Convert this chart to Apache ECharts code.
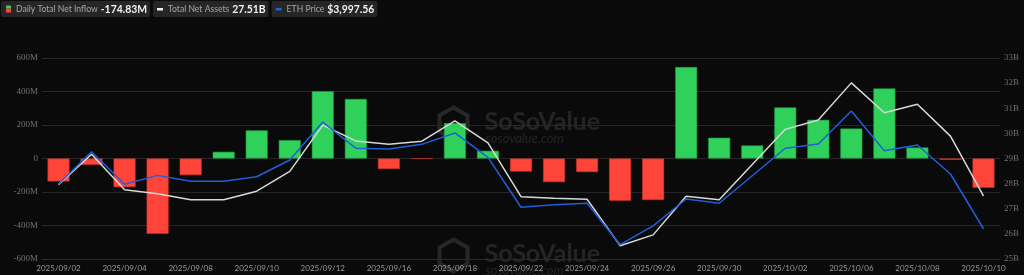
<!DOCTYPE html>
<html>
<head>
<meta charset="utf-8">
<script src="https://cdn.jsdelivr.net/npm/echarts@6/dist/echarts.min.js"></script>
<style>
html,body{margin:0;padding:0;background:#0a0a0a;}
#c{width:1024px;height:275px;}
</style>
</head>
<body>
<div id="c"></div>
<script>
const dates = ['2025/09/02','2025/09/03','2025/09/04','2025/09/05','2025/09/08','2025/09/09','2025/09/10','2025/09/11','2025/09/12','2025/09/15','2025/09/16','2025/09/17','2025/09/18','2025/09/19','2025/09/22','2025/09/23','2025/09/24','2025/09/25','2025/09/26','2025/09/29','2025/09/30','2025/10/01','2025/10/02','2025/10/03','2025/10/06','2025/10/07','2025/10/08','2025/10/09','2025/10/10'];
// Daily total net inflow, millions USD
const netInflow = [-137,-38,-171,-450,-99,40,168,110,402,356,-63,-1.5,211,46,-78,-141,-81,-252,-248,546,124,78,305,231,179,418,66,-8,-174.83];
// Total net assets, billions USD
const totalNetAssets = [27.96,29.17,27.76,27.60,27.36,27.36,27.70,28.49,30.33,29.70,29.57,29.69,30.50,29.62,27.48,27.42,27.38,25.53,25.96,27.50,27.36,28.76,30.16,30.53,32.01,30.82,31.16,29.89,27.51];
// ETH price, USD
const ethPrice = [4259,4450,4259,4311,4276,4276,4303,4401,4624,4470,4466,4493,4560,4417,4124,4139,4147,3904,4014,4172,4147,4309,4470,4495,4689,4456,4489,4319,3997.56];
const leftTicks = {min:-600, max:600, interval:200};
const rightTicks = {min:25, max:33, interval:1};

const GREEN = '#2fd15a', RED = '#ff4539', WHITE = '#d8d8d8', BLUE = '#1f5fdc';

const lastInflow = netInflow[netInflow.length-1];
const lastAssets = totalNetAssets[totalNetAssets.length-1];
const lastEth = ethPrice[ethPrice.length-1];
const fmtEth = '$' + lastEth.toLocaleString('en-US',{minimumFractionDigits:2, maximumFractionDigits:2});

const LABEL_FONT = {family:'Lato', size:8.6, weight:'normal'};
const VALUE_FONT = {family:'Lato', size:10.4, weight:'bold'};
const mctx = document.createElement('canvas').getContext('2d');
function measure(t, f){ mctx.font = f.weight+' '+f.size+'px '+f.family; return mctx.measureText(t).width; }

const chart = echarts.init(document.getElementById('c'), null, {renderer:'canvas'});

function legendBox(x, iconEls, label, value){
  const lw = measure(label, LABEL_FONT), vw = measure(value, VALUE_FONT);
  const w = 15 + lw + 3 + vw + 3;
  return {w, el:{
    type:'group', left:x, top:1,
    children:[
      {type:'rect', shape:{x:0,y:0,width:w,height:16,r:2}, style:{fill:'#262626'}},
      ...iconEls,
      {type:'text', x:15, y:8.5, style:{text:label, verticalAlign:'middle', fontFamily:LABEL_FONT.family, fontSize:LABEL_FONT.size, fill:'#a6a6a6'}},
      {type:'text', x:15+lw+3, y:8.5, style:{text:value, verticalAlign:'middle', fontFamily:VALUE_FONT.family, fontSize:VALUE_FONT.size, fontWeight:'bold', fill:'#f2f2f2'}}
    ]
  }};
}

function watermark(top){
  return {
    type:'group', left:437, top:top, silent:true,
    children:[
      {type:'polygon', shape:{points:[[15,0],[29,8],[29,24],[15,32],[1,24],[1,8]]}, style:{fill:'none', stroke:'rgba(255,255,255,0.12)', lineWidth:4}},
      {type:'text', x:46, y:2, style:{text:'SoSoValue', fontFamily:'Lato', fontWeight:'bold', fontSize:25, fill:'rgba(255,255,255,0.11)'}},
      {type:'text', x:47, y:25, style:{text:'sosovalue.com', fontFamily:'Lato', fontStyle:'italic', fontSize:13, fill:'rgba(255,255,255,0.10)'}}
    ]
  };
}

const b1 = legendBox(1, [
  {type:'rect', shape:{x:5,y:4.5,width:5,height:3}, style:{fill:GREEN}},
  {type:'rect', shape:{x:5,y:7.5,width:5,height:4}, style:{fill:RED}}
], 'Daily Total Net Inflow', lastInflow.toFixed(2)+'M');
const b2 = legendBox(1 + b1.w + 3, [
  {type:'rect', shape:{x:4,y:7,width:6,height:2.5}, style:{fill:'#f0f0f0'}}
], 'Total Net Assets', lastAssets.toFixed(2)+'B');
const b3 = legendBox(1 + b1.w + 3 + b2.w + 3, [
  {type:'rect', shape:{x:4,y:7,width:6,height:2.5}, style:{fill:BLUE}}
], 'ETH Price', fmtEth);

const option = {
  backgroundColor:'#0a0a0a',
  animation:false,
  graphic:[ watermark(105), watermark(237), b1.el, b2.el, b3.el ],
  grid:{left:42, right:24, top:58, bottom:16, containLabel:false},
  xAxis:{
    type:'category', data:dates,
    axisLine:{onZero:false, lineStyle:{color:'#2a2a2a'}},
    axisTick:{show:false},
    axisLabel:{interval:1, color:'#9a9a9a', fontFamily:'Lato', fontSize:8, margin:5}
  },
  yAxis:[
    {
      type:'value', min:leftTicks.min, max:leftTicks.max, interval:leftTicks.interval,
      axisLine:{show:false}, axisTick:{show:false},
      splitLine:{lineStyle:{color:'#262626', width:1}},
      axisLabel:{color:'#707070', fontFamily:'Liberation Serif', fontSize:9, margin:4,
        formatter:v => v===0 ? '0' : v+'M'}
    },
    {
      type:'value', min:rightTicks.min, max:rightTicks.max, interval:rightTicks.interval,
      position:'right',
      axisLine:{show:false}, axisTick:{show:false}, splitLine:{show:false},
      axisLabel:{color:'#707070', fontFamily:'Liberation Serif', fontSize:9, margin:4,
        formatter:v => v+'B'}
    },
    {
      type:'value', min:3820, max:5000, show:false, splitLine:{show:false}
    }
  ],
  series:[
    {
      name:'Daily Total Net Inflow', type:'bar', yAxisIndex:0, barWidth:22,
      data:netInflow.map(v => ({value:v, itemStyle:{color: v>=0?GREEN:RED, borderColor: v>=0?'#1f9a40':'#c23329', borderWidth:0.6}}))
    },
    {
      name:'Total Net Assets', type:'line', yAxisIndex:1, data:totalNetAssets,
      symbol:'none', lineStyle:{color:WHITE, width:1.5}, z:3
    },
    {
      name:'ETH Price', type:'line', yAxisIndex:2, data:ethPrice,
      symbol:'none', lineStyle:{color:BLUE, width:1.5}, z:4
    }
  ]
};
chart.setOption(option);
</script>
</body>
</html>
